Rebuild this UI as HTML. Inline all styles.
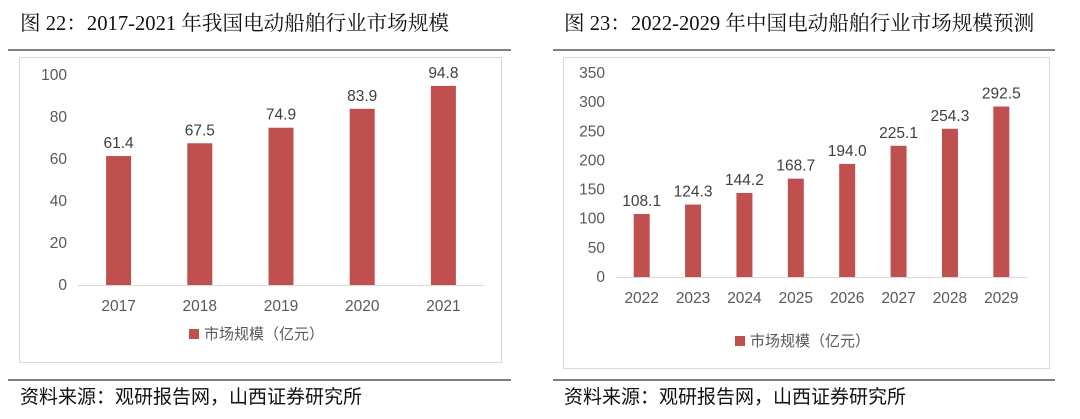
<!DOCTYPE html>
<html><head><meta charset="utf-8"><style>
body{margin:0;width:1080px;height:419px;background:#fff;overflow:hidden;font-family:"Liberation Sans","Noto Sans CJK SC",sans-serif}
svg{position:absolute;left:0;top:0}
</style></head><body>
<svg width="1080" height="419">
<g id="static" font-family="Liberation Serif, Noto Serif CJK SC, serif">
<text x="20" y="30" font-size="20.6" fill="#111">图 22：2017-2021 年我国电动船舶行业市场规模</text>
<text x="564" y="30" font-size="20.6" fill="#111">图 23：2022-2029 年中国电动船舶行业市场规模预测</text>
<line x1="8" y1="50" x2="511" y2="50" stroke="#333" stroke-width="1.2"/>
<line x1="553" y1="50" x2="1055" y2="50" stroke="#333" stroke-width="1.2"/>
<rect x="19.5" y="57.5" width="482" height="305" fill="none" stroke="#d9d9d9"/>
<rect x="563.5" y="57.5" width="486" height="311" fill="none" stroke="#d9d9d9"/>
<line x1="8" y1="380" x2="511" y2="380" stroke="#333" stroke-width="1.2"/>
<line x1="553" y1="380" x2="1055" y2="380" stroke="#333" stroke-width="1.2"/>
<text x="20" y="403" font-size="19" font-family="Noto Sans CJK SC, sans-serif" fill="#111">资料来源：观研报告网，山西证券研究所</text>
<text x="564" y="403" font-size="19" font-family="Noto Sans CJK SC, sans-serif" fill="#111">资料来源：观研报告网，山西证券研究所</text>
</g>
<g id="c1"></g><g id="c2"></g>
</svg>
<script>
const cats1=['2017','2018','2019','2020','2021'];
const vals1=[61.4,67.5,74.9,83.9,94.8];
const ticks1=[0,20,40,60,80,100];
const cats2=['2022','2023','2024','2025','2026','2027','2028','2029'];
const vals2=[108.1,124.3,144.2,168.7,194.0,225.1,254.3,292.5];
const ticks2=[0,50,100,150,200,250,300,350];
const NS='http://www.w3.org/2000/svg';
function mk(p,t,a,txt){const e=document.createElementNS(NS,t);for(const k in a)e.setAttribute(k,a[k]);if(txt!==undefined)e.textContent=txt;p.appendChild(e);return e;}
function draw(g,o){
 const y=v=>o.y0-(v-o.min)/(o.max-o.min)*(o.y0-o.y1);
 const step=(o.x1-o.x0)/o.cats.length;
 const x=i=>o.x0+step*(i+0.5);
 o.ticks.forEach(t=>{const e=mk(g,'text',{x:o.tx,y:y(t)+5,'text-anchor':'end','font-size':15.5,fill:'#595959'},t);
  
  });
 o.vals.forEach((v,i)=>{
  const r=mk(g,'rect',{x:x(i)-o.bw/2,y:y(v),width:o.bw,height:o.y0-y(v),fill:'#c0504d'});
  
  
  const l=mk(g,'text',{x:x(i),y:y(v)-8,'text-anchor':'middle','font-size':15.5,fill:'#404040'},v.toFixed(1));
  
  
  const c=mk(g,'text',{x:x(i),y:o.y0+26,'text-anchor':'middle','font-size':15.5,fill:'#595959'},o.cats[i]);
  
  
 });
 const ax=mk(g,'line',{x1:o.x0,x2:o.x1,y1:o.y0+0.5,y2:o.y0+0.5,stroke:'#d9d9d9','stroke-width':1});
 
 
 const sq=mk(g,'rect',{x:o.lx,y:o.ly-10,width:10,height:10,fill:'#c0504d'});
 
 
 const lt=mk(g,'text',{x:o.lx+15,y:o.ly,'font-size':15,fill:'#595959','font-family':'Noto Sans CJK SC, sans-serif'},'市场规模（亿元）');
 
 
}
draw(document.getElementById('c1'),{cats:cats1,vals:vals1,ticks:ticks1,min:0,max:100,y0:285,y1:75,x0:78,x1:484,bw:25,tx:67,lx:189,ly:339});
draw(document.getElementById('c2'),{cats:cats2,vals:vals2,ticks:ticks2,min:0,max:350,y0:277,y1:73,x0:616,x1:1027,bw:16,tx:605,lx:735,ly:346});
</script>
</body></html>
